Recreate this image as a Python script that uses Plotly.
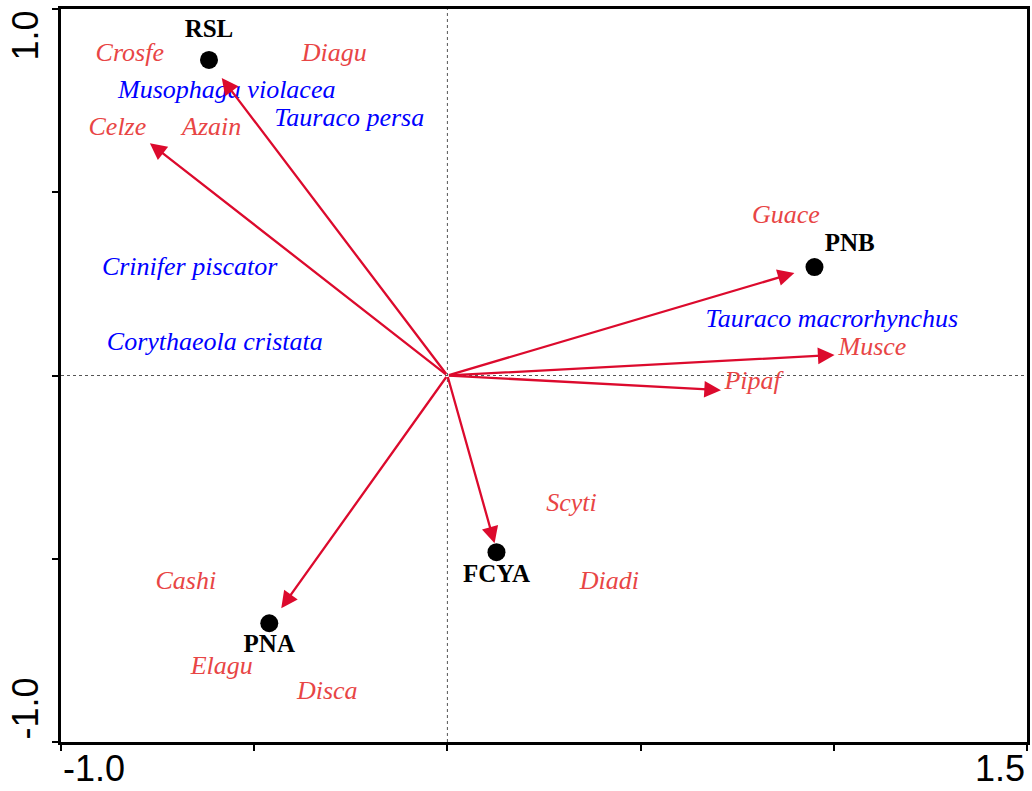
import plotly.graph_objects as go

# Sites (black dots)
site_names = ["RSL", "PNB", "FCYA", "PNA"]
site_x = [-0.617, 0.950, 0.127, -0.461]
site_y = [0.861, 0.296, -0.482, -0.676]
site_label_x = [-0.617, 1.041, 0.127, -0.461]
site_label_y = [0.940, 0.358, -0.547, -0.738]

# Arrow tips (arrows start at origin)
arrow_x = [-0.584, -0.770, 0.898, 1.002, 0.708, 0.122, -0.430]
arrow_y = [0.812, 0.634, 0.280, 0.056, -0.040, -0.458, -0.635]

# Species codes (red)
code_names = ["Crosfe", "Diagu", "Celze", "Azain", "Guace", "Musce", "Pipaf",
              "Scyti", "Cashi", "Diadi", "Elagu", "Disca"]
code_x = [-0.822, -0.293, -0.854, -0.610, 0.876, 1.100, 0.790,
          0.321, -0.677, 0.419, -0.584, -0.311]
code_y = [0.875, 0.875, 0.673, 0.673, 0.433, 0.075, -0.020,
          -0.353, -0.565, -0.565, -0.797, -0.865]

# Species names (blue)
sp_names = ["Musophaga violacea", "Tauraco persa", "Crinifer piscator",
            "Corythaeola cristata", "Tauraco macrorhynchus"]
sp_x = [-0.571, -0.254, -0.667, -0.602, 0.995]
sp_y = [0.774, 0.698, 0.291, 0.087, 0.150]

# Axis
x_range = [-1.0, 1.5]
y_range = [-1.0, 1.0]
x_ticks = [-1.0, -0.5, 0.0, 0.5, 1.0, 1.5]
y_ticks = [-1.0, -0.5, 0.0, 0.5, 1.0]

ARROW_C = "#DC0A2D"
RED_C = "#E84545"
BLUE_C = "#0000FF"
SERIF = "Liberation Serif, Times New Roman, serif"
SANS = "Liberation Sans, Arial, sans-serif"

fig = go.Figure()

fig.add_trace(go.Scatter(
    x=code_x, y=code_y, mode="text", text=code_names,
    textfont=dict(family=SERIF, size=26, color=RED_C, style="italic"),
    hoverinfo="skip", showlegend=False))

fig.add_trace(go.Scatter(
    x=sp_x, y=sp_y, mode="text", text=sp_names,
    textfont=dict(family=SERIF, size=26, color=BLUE_C, style="italic"),
    hoverinfo="skip", showlegend=False))

fig.add_trace(go.Scatter(
    x=site_x, y=site_y, mode="markers",
    marker=dict(size=18, color="black"),
    hoverinfo="skip", showlegend=False))

fig.add_trace(go.Scatter(
    x=site_label_x, y=site_label_y, mode="text",
    text=["<b>%s</b>" % s for s in site_names],
    textfont=dict(family=SERIF, size=25, color="black"),
    hoverinfo="skip", showlegend=False))

annotations = []
for ax_, ay_ in zip(arrow_x, arrow_y):
    annotations.append(dict(
        x=ax_, y=ay_, ax=0, ay=0, xref="x", yref="y", axref="x", ayref="y",
        text="", showarrow=True, arrowhead=2, arrowsize=1.45, arrowwidth=2.3,
        arrowcolor=ARROW_C, standoff=0))

# tick labels (placed at axis ends, like the original)
bottom = -49.0 / 733.0
annotations += [
    dict(x=0, y=bottom, xref="paper", yref="paper", text="-1.0", showarrow=False,
         xanchor="left", yanchor="bottom", yshift=0,
         font=dict(family=SANS, size=36, color="black")),
    dict(x=1, y=bottom, xref="paper", yref="paper", text="1.5", showarrow=False,
         xanchor="right", yanchor="bottom", yshift=0,
         font=dict(family=SANS, size=36, color="black")),
    dict(x=0, y=1, xref="paper", yref="paper", text="1.0", showarrow=False,
         xanchor="right", yanchor="top", xshift=-14, textangle=-90,
         font=dict(family=SANS, size=36, color="black")),
    dict(x=0, y=0, xref="paper", yref="paper", text="-1.0", showarrow=False,
         xanchor="right", yanchor="bottom", xshift=-14, textangle=-90,
         font=dict(family=SANS, size=36, color="black")),
]

shapes = [
    dict(type="line", xref="x", yref="paper", x0=0, x1=0, y0=0, y1=1,
         line=dict(color="#555555", width=1, dash="dot"), layer="below"),
    dict(type="line", xref="paper", yref="y", x0=0, x1=1, y0=0, y1=0,
         line=dict(color="#555555", width=1, dash="dot"), layer="below"),
]

fig.update_layout(
    width=1032, height=791,
    margin=dict(l=61, r=2, t=9, b=49),
    paper_bgcolor="white", plot_bgcolor="white",
    annotations=annotations, shapes=shapes,
    xaxis=dict(range=x_range, tickvals=x_ticks, showticklabels=False,
               ticks="outside", ticklen=6, tickwidth=2, tickcolor="black",
               showline=True, linewidth=2.5, linecolor="black", mirror=True,
               showgrid=False, zeroline=False, fixedrange=True),
    yaxis=dict(range=y_range, tickvals=y_ticks, showticklabels=False,
               ticks="outside", ticklen=6, tickwidth=2, tickcolor="black",
               showline=True, linewidth=2.5, linecolor="black", mirror=True,
               showgrid=False, zeroline=False, fixedrange=True),
)

fig.write_html(
    "out.html",
    config={"displayModeBar": False},
    post_script="document.body.style.margin='0';document.body.style.overflow='hidden';",
)
